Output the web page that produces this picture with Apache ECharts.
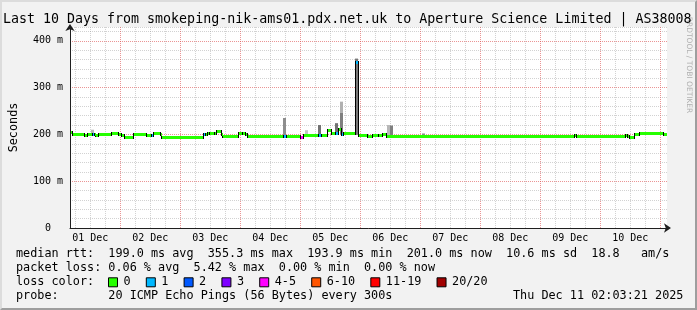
<!DOCTYPE html>
<html><head><meta charset="utf-8">
<script src="https://cdn.jsdelivr.net/npm/echarts@6/dist/echarts.min.js"></script>
<style>
html,body{margin:0;padding:0;background:#f2f2f2;}
#wrap{position:relative;width:697px;height:310px;overflow:hidden;}
#chart{position:absolute;left:0;top:0;width:697px;height:310px;}
#frame{position:absolute;left:0;top:0;width:697px;height:310px;box-sizing:border-box;border-top:2px solid #dcdcdc;border-left:2px solid #dcdcdc;border-right:2px solid #9e9e9e;border-bottom:2px solid #9e9e9e;pointer-events:none;}
</style></head><body>
<div id="wrap"><div id="chart"></div><div id="frame"></div></div>
<script>
// ---- data (hours since 01 Dec 00:00) ----
const dayLabels = ['01 Dec','02 Dec','03 Dec','04 Dec','05 Dec','06 Dec','07 Dec','08 Dec','09 Dec','10 Dec'];
const yTickLabels = ['0','100 m','200 m','300 m','400 m'];
const lossLabels = ['0','1','2','3','4-5','6-10','11-19','20/20'];
const lossColors = ['#26ff00','#00b8ff','#0059ff','#7e00ff','#ff00ff','#ff5500','#ff0000','#a10000'];

// median rtt (ms) step samples: start time, value, loss-category index
const medianTime  = [2.67,3.47,8.4,9.7,11.6,12.5,12.9,14.0,19.3,22.0,23.3,24.4,28.0,33.3,35.1,36.1,38.7,39.3,56.0,57.1,57.9,58.7,60.7,61.5,63.3,63.9,70.1,71.9,73.1,73.9,88.3,89.5,95.1,96.3,102.3,103.5,105.9,107.5,109.1,110.3,111.5,112.3,117.3,118.3,121.9,123.9,126.3,127.9,129.9,205.1,205.9,225.9,226.7,227.3,229.5,231.5,241.1];
const medianValue = [205,200,198,200,200,200,198,200,202,200,198,195,200,198,198,202,200,195,200,200,202,204,202,208,200,196,202,203,200,196,196,196,194,198,198,199,209,203,203,211,200,202,355,199,197,199,198,200,196,199,196,199,196,194,201,203,201];
const medianLoss  = [0,0,0,0,1,0,0,0,0,0,0,0,0,0,1,0,0,0,1,0,0,0,0,0,0,0,0,0,0,0,1,0,4,0,1,0,0,0,1,0,1,0,1,0,0,0,0,0,0,0,0,0,0,0,0,0,0];

// smoke (ping spread): centre time, low, high, density
const smokeTime    = [11.9,88.9,97.9,102.9,109.9,112.0,112.0,117.9,130.9,131.9,144.9];
const smokeLow     = [200,196,198,198,203,246,200,199,195,195,196];
const smokeHigh    = [210,235,209,220,224,270,246,362,220,219,202];
const smokeDensity = [0.3,0.6,0.2,0.8,0.8,0.35,0.7,0.75,0.3,0.7,0.6];

const timeStart = 2.67, timeEnd = 242.67;

// ---- build ----
const MONO = '"DejaVu Sans Mono", monospace';
const MAJOR = 'rgba(222,79,79,0.6)';
const MINOR = 'rgba(143,143,143,0.4)';

function gray(d){ const g = Math.round(225 - 140*d); return 'rgb('+g+','+g+','+g+')'; }

const smokeData = smokeTime.map((t,i)=>[t, smokeLow[i], smokeHigh[i], smokeDensity[i]]);
// vertical connectors between successive median samples
const connectorData = [];
for (let i = 1; i < medianTime.length; i++) connectorData.push([medianTime[i], medianValue[i-1], medianValue[i]]);

const lossSeries = lossLabels.map((name, c) => {
  const data = [];
  medianTime.forEach((t,i)=>{
    if (medianLoss[i] === c) {
      const end = i+1 < medianTime.length ? medianTime[i+1] : timeEnd;
      data.push([t, end, medianValue[i]]);
    }
  });
  return {
    type:'custom', name, z:5, xAxisIndex:0, yAxisIndex:0,
    itemStyle:{color: lossColors[c]},
    encode:{x:[0,1], y:2},
    data,
    renderItem:(params, api)=>{
      const a = api.coord([api.value(0), api.value(2)]);
      const b = api.coord([api.value(1), api.value(2)]);
      const y = Math.round(a[1]);
      const x0 = Math.round(a[0]) + 1, x1 = Math.round(b[0]);
      return {type:'rect', shape:{x:x0, y:y-1, width:Math.max(1, x1-x0), height:3}, style:{fill: lossColors[c]}};
    }
  };
});

const textBase = {fontFamily: MONO, fontSize: 11.8, fontWeight:'normal', color:'#000', lineHeight:14};
const row1 = 'median rtt:  199.0 ms avg  355.3 ms max  193.9 ms min  201.0 ms now  10.6 ms sd  18.8   am/s';
const row2 = 'packet loss: 0.06 % avg  5.42 % max  0.00 % min  0.00 % now';
const row3 = 'loss color:';
const row4 = 'probe:       20 ICMP Echo Pings (56 Bytes) every 300s';
const stamp = 'Thu Dec 11 02:03:21 2025';
const TITLE = 'Last 10 Days from smokeping-nik-ams01.pdx.net.uk to Aperture Science Limited | AS38008';

const option = {
  animation:false,
  backgroundColor:'#f2f2f2',
  textStyle:{fontFamily:MONO},
  title:[
    {text:TITLE, left:3, top:11.5, padding:0, textStyle:{fontFamily:MONO, fontSize:13.3, fontWeight:'normal', color:'#000', lineHeight:16}},
    {text:row1, left:16, top:247.3, padding:0, textStyle:textBase},
    {text:row2, left:16, top:261.3, padding:0, textStyle:textBase},
    {text:row3, left:16, top:275.3, padding:0, textStyle:textBase},
    {text:row4, left:16, top:289, padding:0, textStyle:textBase},
    {text:stamp, left:513, top:289, padding:0, textStyle:textBase}
  ],
  legend:{
    data: lossLabels, left:108, top:275.3, padding:0, orient:'horizontal',
    icon:'rect', itemWidth:9, itemHeight:9, itemGap:15.2, selectedMode:false,
    itemStyle:{borderColor:'#000', borderWidth:1},
    textStyle:{fontFamily:MONO, fontSize:11.8, color:'#000', lineHeight:14, padding:[0,0,0,1]}
  },
  graphic:[{type:'text', x:689, y:65, rotation:-Math.PI/2, silent:true,
    style:{text:'RRDTOOL / TOBI OETIKER', fill:'#b0b0b0', fontSize:7.5, fontFamily:'"DejaVu Sans", sans-serif', align:'center', verticalAlign:'middle'}}],
  grid:[
    {left:67, right:30, top:27, bottom:82, show:true, backgroundColor:'#ffffff', borderWidth:0, z:-1},
    {left:60.33, right:36.67, top:27, bottom:82},
    {left:90.33, right:6.67, top:27, bottom:82}
  ],
  xAxis:[
    {gridIndex:0, type:'value', min:timeStart, max:timeEnd,
     axisLine:{show:true, onZero:false, lineStyle:{color:'#1f1f1f', width:1}, symbol:['none','arrow'], symbolSize:[7,7], symbolOffset:[0,4]},
     axisTick:{show:false}, axisLabel:{show:false}, splitLine:{show:false}},
    {gridIndex:1, type:'value', min:0, max:240, interval:24,
     axisLine:{show:false, onZero:false}, axisTick:{show:false}, axisLabel:{show:false},
     splitLine:{show:true, showMinLine:false, lineStyle:{color:MAJOR, type:[1,1], width:1}},
     minorTick:{show:false, splitNumber:4},
     minorSplitLine:{show:true, lineStyle:{color:MINOR, type:[1,1], width:1}}},
    {gridIndex:2, type:'value', min:0, max:240, interval:24,
     axisLine:{show:false, onZero:false}, axisTick:{show:false}, splitLine:{show:false},
     axisLabel:{show:true, margin:5, fontFamily:MONO, fontSize:10, color:'#000',
       formatter:(v)=>{ const i=Math.round(v/24); return (Math.abs(v-i*24)<1e-6 && i<dayLabels.length)?dayLabels[i]:''; }}}
  ],
  yAxis:[
    {gridIndex:0, type:'value', min:0, max:429.5, interval:20,
     name:'Seconds', nameLocation:'middle', nameGap:50,
     nameTextStyle:{fontFamily:MONO, fontSize:11.8, color:'#000'},
     axisLine:{show:true, lineStyle:{color:'#1f1f1f', width:1}, symbol:['none','arrow'], symbolSize:[7,7], symbolOffset:[0,3]},
     axisTick:{show:false},
     axisLabel:{show:true, align:'center', margin:22, fontFamily:MONO, fontSize:10, color:'#000',
       formatter:(v)=>{ const i=Math.round(v/100); return (Math.abs(v-i*100)<1e-6 && i<yTickLabels.length)?yTickLabels[i]:''; }},
     splitLine:{show:true, lineStyle:{color:[MAJOR,MINOR,MINOR,MINOR,MINOR], type:[1,1], width:1}}},
    {gridIndex:1, type:'value', show:false, min:0, max:1, splitLine:{show:false}},
    {gridIndex:2, type:'value', show:false, min:0, max:1, splitLine:{show:false}}
  ],
  series:[
    {type:'custom', name:'smoke', z:2, xAxisIndex:0, yAxisIndex:0, encode:{x:0, y:[1,2]}, data:smokeData,
     renderItem:(params, api)=>{
       const a = api.coord([api.value(0)-0.6, api.value(2)]);
       const b = api.coord([api.value(0)+0.6, api.value(1)]);
       return {type:'rect', shape:{x:Math.round(a[0]), y:a[1], width:3, height:b[1]-a[1]}, style:{fill: gray(api.value(3))}};
     }},
    {type:'custom', name:'connector', z:4, xAxisIndex:0, yAxisIndex:0, encode:{x:0, y:[1,2]}, data:connectorData,
     renderItem:(params, api)=>{
       const a = api.coord([api.value(0), api.value(1)]);
       const b = api.coord([api.value(0), api.value(2)]);
       const ya = Math.round(a[1]), yb = Math.round(b[1]);
       const top = Math.min(ya, yb) - 1, h = Math.abs(ya - yb) + 3;
       return {type:'rect', shape:{x:Math.round(a[0]), y:top, width:1, height:h}, style:{fill:'#000'}};
     }}
  ].concat(lossSeries)
};

const chart = echarts.init(document.getElementById('chart'), null, {renderer:'canvas'});
chart.setOption(option);
</script>
</body></html>
